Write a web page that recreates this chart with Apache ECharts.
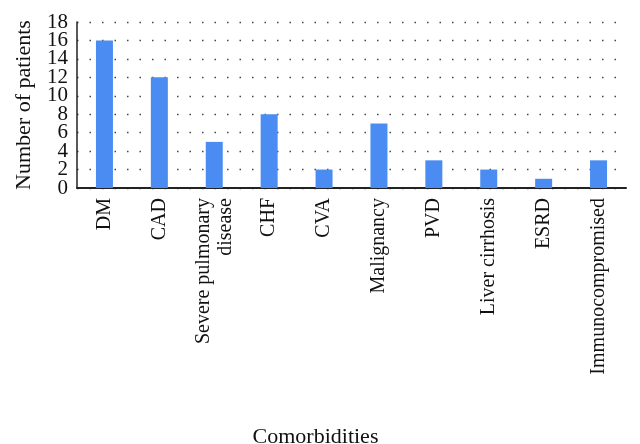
<!DOCTYPE html>
<html>
<head>
<meta charset="UTF-8">
<title>Comorbidities</title>
<script src="https://cdn.jsdelivr.net/npm/echarts@6/dist/echarts.min.js"></script>
<style>
  body { margin: 0; padding: 0; background: #fff; }
  #main { width: 640px; height: 444px; }
</style>
</head>
<body>
<div id="main"></div>
<script type="text/javascript">
  const categories = ['DM', 'CAD', 'Severe pulmonary\ndisease', 'CHF', 'CVA', 'Malignancy', 'PVD', 'Liver cirrhosis', 'ESRD', 'Immunocompromised'];
  const patients = [16, 12, 5, 8, 2, 7, 3, 2, 1, 3];
  const yMin = 0;
  const yMax = 18;
  const yStep = 2;

  const font = '"Liberation Serif", "DejaVu Serif", serif';
  const chart = echarts.init(document.getElementById('main'));

  const tickText = { fontFamily: font, fontSize: 21, color: '#111', margin: 9 };

  chart.setOption({
    animation: false,
    grid: { left: 77, right: 14, top: 22, bottom: 256, containLabel: false, outerBoundsMode: 'none' },
    xAxis: {
      type: 'category',
      data: categories,
      name: 'Comorbidities',
      nameLocation: 'middle',
      nameGap: 238,
      nameTextStyle: { fontFamily: font, fontSize: 22, color: '#111', padding: [0, 72, 0, 0] },
      axisLine: { lineStyle: { color: '#222', width: 2 } },
      axisTick: { show: false },
      axisLabel: {
        rotate: 90,
        interval: 0,
        margin: 10,
        fontFamily: font,
        fontSize: 20,
        color: '#111',
        lineHeight: 22
      }
    },
    yAxis: [{
      type: 'value',
      min: yMin,
      max: yMax,
      interval: yStep,
      name: 'Number of patients',
      nameLocation: 'middle',
      nameGap: 42,
      nameTextStyle: { fontFamily: font, fontSize: 22, color: '#111' },
      axisLine: { show: true, lineStyle: { color: '#222', width: 1.5 } },
      axisTick: { show: false },
      // inner labels here; the end labels come from the second axis
      axisLabel: Object.assign({ showMinLabel: false, showMaxLabel: false }, tickText),
      splitLine: { lineStyle: { color: '#444', type: [1.5, 11], width: 1.3 } }
    }, {
      type: 'value',
      position: 'left',
      min: yMin,
      max: yMax,
      axisLine: { show: false },
      axisTick: { show: false },
      splitLine: { show: false },
      axisLabel: Object.assign({ customValues: [yMin, yMax] }, tickText)
    }],
    series: [{
      type: 'bar',
      data: patients,
      barWidth: 17,
      itemStyle: { color: '#4a8cf2' }
    }]
  });
</script>
</body>
</html>
